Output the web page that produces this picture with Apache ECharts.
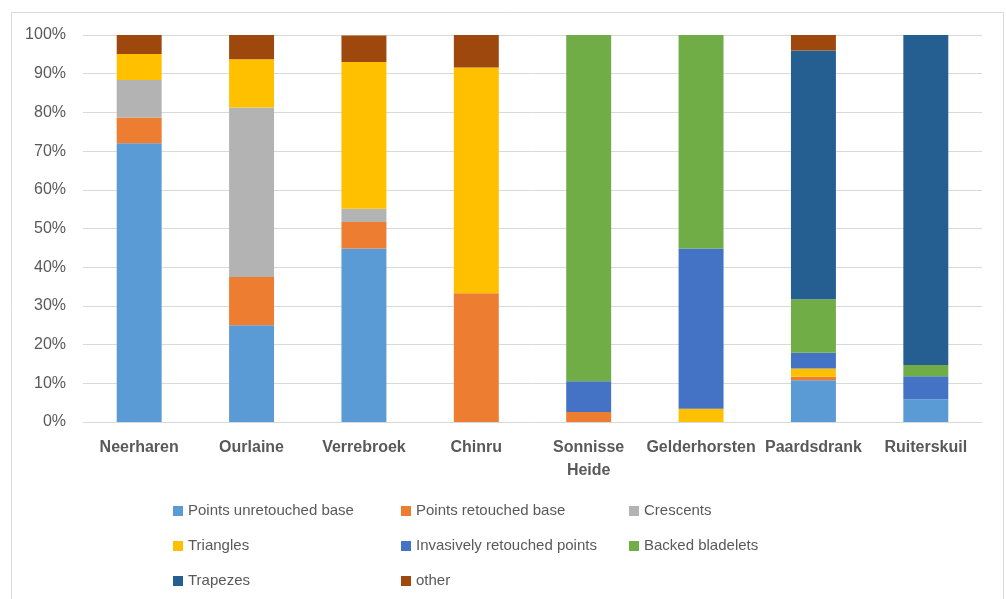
<!DOCTYPE html>
<html>
<head>
<meta charset="utf-8">
<script src="https://cdn.jsdelivr.net/npm/echarts@6/dist/echarts.min.js"></script>
<style>
html,body{margin:0;padding:0;background:#fff;}
#chart{width:1006px;height:599px;}
</style>
</head>
<body>
<div id="chart"></div>
<script>
const categories = ["Neerharen","Ourlaine","Verrebroek","Chinru","Sonnisse Heide","Gelderhorsten","Paardsdrank","Ruiterskuil"];
const seriesNames = ["Points unretouched base","Points retouched base","Crescents","Triangles","Invasively retouched points","Backed bladelets","Trapezes","other"];
const pointsUnretouched = [72.0, 25.0, 44.8, 0, 0, 0, 10.8, 5.9];
const pointsRetouched   = [6.7, 12.5, 6.9, 33.3, 2.6, 0, 0.9, 0];
const crescents         = [9.7, 43.75, 3.4, 0, 0, 0, 0, 0];
const triangles         = [6.7, 12.5, 37.9, 58.3, 0, 3.4, 2.1, 0];
const invasive          = [0, 0, 0, 0, 7.9, 41.4, 4.1, 5.9];
const backed            = [0, 0, 0, 0, 89.5, 55.2, 13.8, 2.9];
const trapezes          = [0, 0, 0, 0, 0, 0, 64.3, 85.3];
const other             = [4.9, 6.25, 6.9, 8.4, 0, 0, 4.0, 0];
const yTicks = [0,10,20,30,40,50,60,70,80,90,100];

const seriesData = [pointsUnretouched, pointsRetouched, crescents, triangles, invasive, backed, trapezes, other];
const colors = ["#5B9BD5","#ED7D31","#B3B3B3","#FFC000","#4472C4","#70AD47","#255E91","#9E480E"];

const font = "'Liberation Sans', Arial, sans-serif";
const legendCols = [173, 401, 629];
const legendRows = [502, 537, 572];

const legends = seriesNames.map((n, i) => ({
  data: [n],
  left: legendCols[i % 3],
  top: legendRows[Math.floor(i / 3)],
  padding: 0,
  itemWidth: 10,
  itemHeight: 10,
  icon: 'rect',
  selectedMode: false,
  textStyle: { fontFamily: font, fontSize: 15, color: '#595959', lineHeight: 18 }
}));

const chart = echarts.init(document.getElementById('chart'), null, { renderer: 'canvas' });
chart.setOption({
  animation: false,
  backgroundColor: '#fff',
  color: colors,
  graphic: [{
    type: 'rect',
    shape: { x: 11.5, y: 12.5, width: 992, height: 600 },
    style: { fill: 'none', stroke: '#D9D9D9', lineWidth: 1 },
    silent: true
  }],
  grid: { left: 83, right: 24, top: 35, bottom: 177 },
  legend: legends,
  xAxis: {
    type: 'category',
    data: categories,
    axisTick: { show: false },
    axisLine: { show: true, lineStyle: { color: '#D9D9D9', width: 1 } },
    axisLabel: {
      interval: 0,
      margin: 14,
      fontFamily: font,
      fontSize: 16,
      fontWeight: 'bold',
      color: '#595959',
      lineHeight: 23,
      formatter: v => v.replace(' ', '\n')
    }
  },
  yAxis: {
    type: 'value',
    min: yTicks[0],
    max: yTicks[yTicks.length - 1],
    interval: yTicks[1] - yTicks[0],
    axisLine: { show: false },
    axisTick: { show: false },
    splitLine: { lineStyle: { color: '#D9D9D9', width: 1 } },
    axisLabel: {
      margin: 17,
      fontFamily: font,
      fontSize: 16,
      color: '#595959',
      formatter: '{value}%'
    }
  },
  series: seriesNames.map((n, i) => ({
    name: n,
    type: 'bar',
    stack: 'total',
    barWidth: '40%',
    data: seriesData[i],
    itemStyle: { color: colors[i] }
  }))
});
</script>
</body>
</html>
